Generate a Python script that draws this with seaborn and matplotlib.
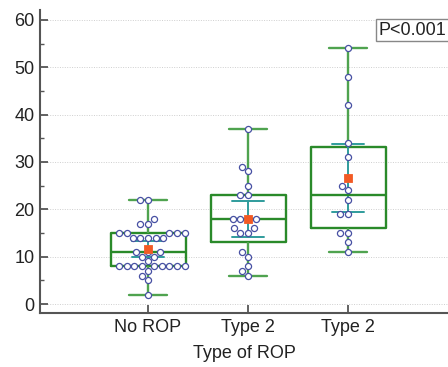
import numpy as np
import pandas as pd
import matplotlib
matplotlib.use("Agg")
import matplotlib.pyplot as plt
from matplotlib.ticker import MultipleLocator
import seaborn as sns

# values (one list per group)
group_ids = ["g0", "g1", "g2"]
group_labels = ["No ROP", "Type 2", "Type 2"]
no_rop = [22, 22, 18, 17, 17, 15, 15, 15, 15, 15, 14, 14, 14, 14, 14,
          11, 11, 11, 10, 10, 9, 8, 8, 8, 8, 8, 8, 8, 8, 8, 7, 6, 5, 2]
type2_a = [37, 29, 28, 25, 23, 23, 18, 18, 18, 18, 16, 16, 15, 15,
           11, 10, 8, 7, 6]
type2_b = [54, 48, 42, 34, 31, 25, 24, 22, 19, 19, 15, 15, 13, 11]
p_text = "P<0.001"

df = pd.concat([
    pd.DataFrame({"group": gid, "value": vals})
    for gid, vals in zip(group_ids, [no_rop, type2_a, type2_b])
], ignore_index=True)

GREEN = "#2a8a2a"
WHISK = "#4fa34f"
TEAL = "#2f9c9c"
RED = "#f25a24"
DOT = "#4750a3"

sns.set_style("white")
plt.rcParams["font.family"] = ["Liberation Sans", "DejaVu Sans"]

fig = plt.figure(figsize=(4.48, 3.67), dpi=100)
ax = fig.add_axes([40 / 448, 54 / 367, 408 / 448, 303 / 367])

sns.boxplot(
    data=df, x="group", y="value", order=group_ids, ax=ax,
    width=0.75, fill=False, color=GREEN, linewidth=1.7,
    whis=(0, 100), showfliers=False,
    whiskerprops={"color": WHISK}, capprops={"color": WHISK},
    boxprops={"color": GREEN}, medianprops={"color": GREEN},
)

# mean with error bars (drawn under the dots)
sns.pointplot(
    data=df, x="group", y="value", order=group_ids, ax=ax,
    estimator="mean", errorbar=("se", 2), marker="", linestyle="none",
    color=TEAL, capsize=0.32, err_kws={"color": TEAL, "linewidth": 1.4},
)

sns.swarmplot(
    data=df, x="group", y="value", order=group_ids, ax=ax,
    color="white", edgecolor=DOT, linewidth=0.9, size=4.4, zorder=4,
)

# mean marker on top
n_lines = len(ax.lines)
sns.pointplot(
    data=df, x="group", y="value", order=group_ids, ax=ax,
    estimator="mean", errorbar=None, marker="s", linestyle="none",
    color=RED, markersize=4.6,
)
for line in ax.lines[n_lines:]:
    line.set_zorder(6)

ax.set_xlim(-1.08, 3.0)
ax.set_ylim(-1.9, 62.1)
ax.yaxis.set_major_locator(MultipleLocator(10))
ax.yaxis.set_minor_locator(MultipleLocator(5))
ax.set_xticks(range(len(group_labels)))
ax.set_xticklabels(group_labels)
ax.grid(axis="y", which="major", color="#cfcfcf", linestyle=(0, (1, 1.5)), linewidth=0.7)
ax.set_axisbelow(True)

for side in ["top", "right"]:
    ax.spines[side].set_visible(False)
for side in ["left", "bottom"]:
    ax.spines[side].set_color("#555555")
    ax.spines[side].set_linewidth(1.5)

ax.tick_params(axis="both", which="major", direction="in", length=6, width=1.3,
               color="#555555", labelsize=13, labelcolor="#222222", pad=4,
               left=True, bottom=True)
ax.tick_params(axis="y", which="minor", direction="in", length=3, width=1.0,
               color="#555555", left=True)
ax.set_xlabel("Type of ROP", fontsize=13, color="#222222", labelpad=7)
ax.set_ylabel("")

ax.text(0.995, 0.962, p_text, transform=ax.transAxes, ha="right", va="top",
        fontsize=13, color="#222222",
        bbox=dict(boxstyle="square,pad=0.15", facecolor="white", edgecolor="#888888", linewidth=1))

fig.savefig("out.png", dpi=100)
